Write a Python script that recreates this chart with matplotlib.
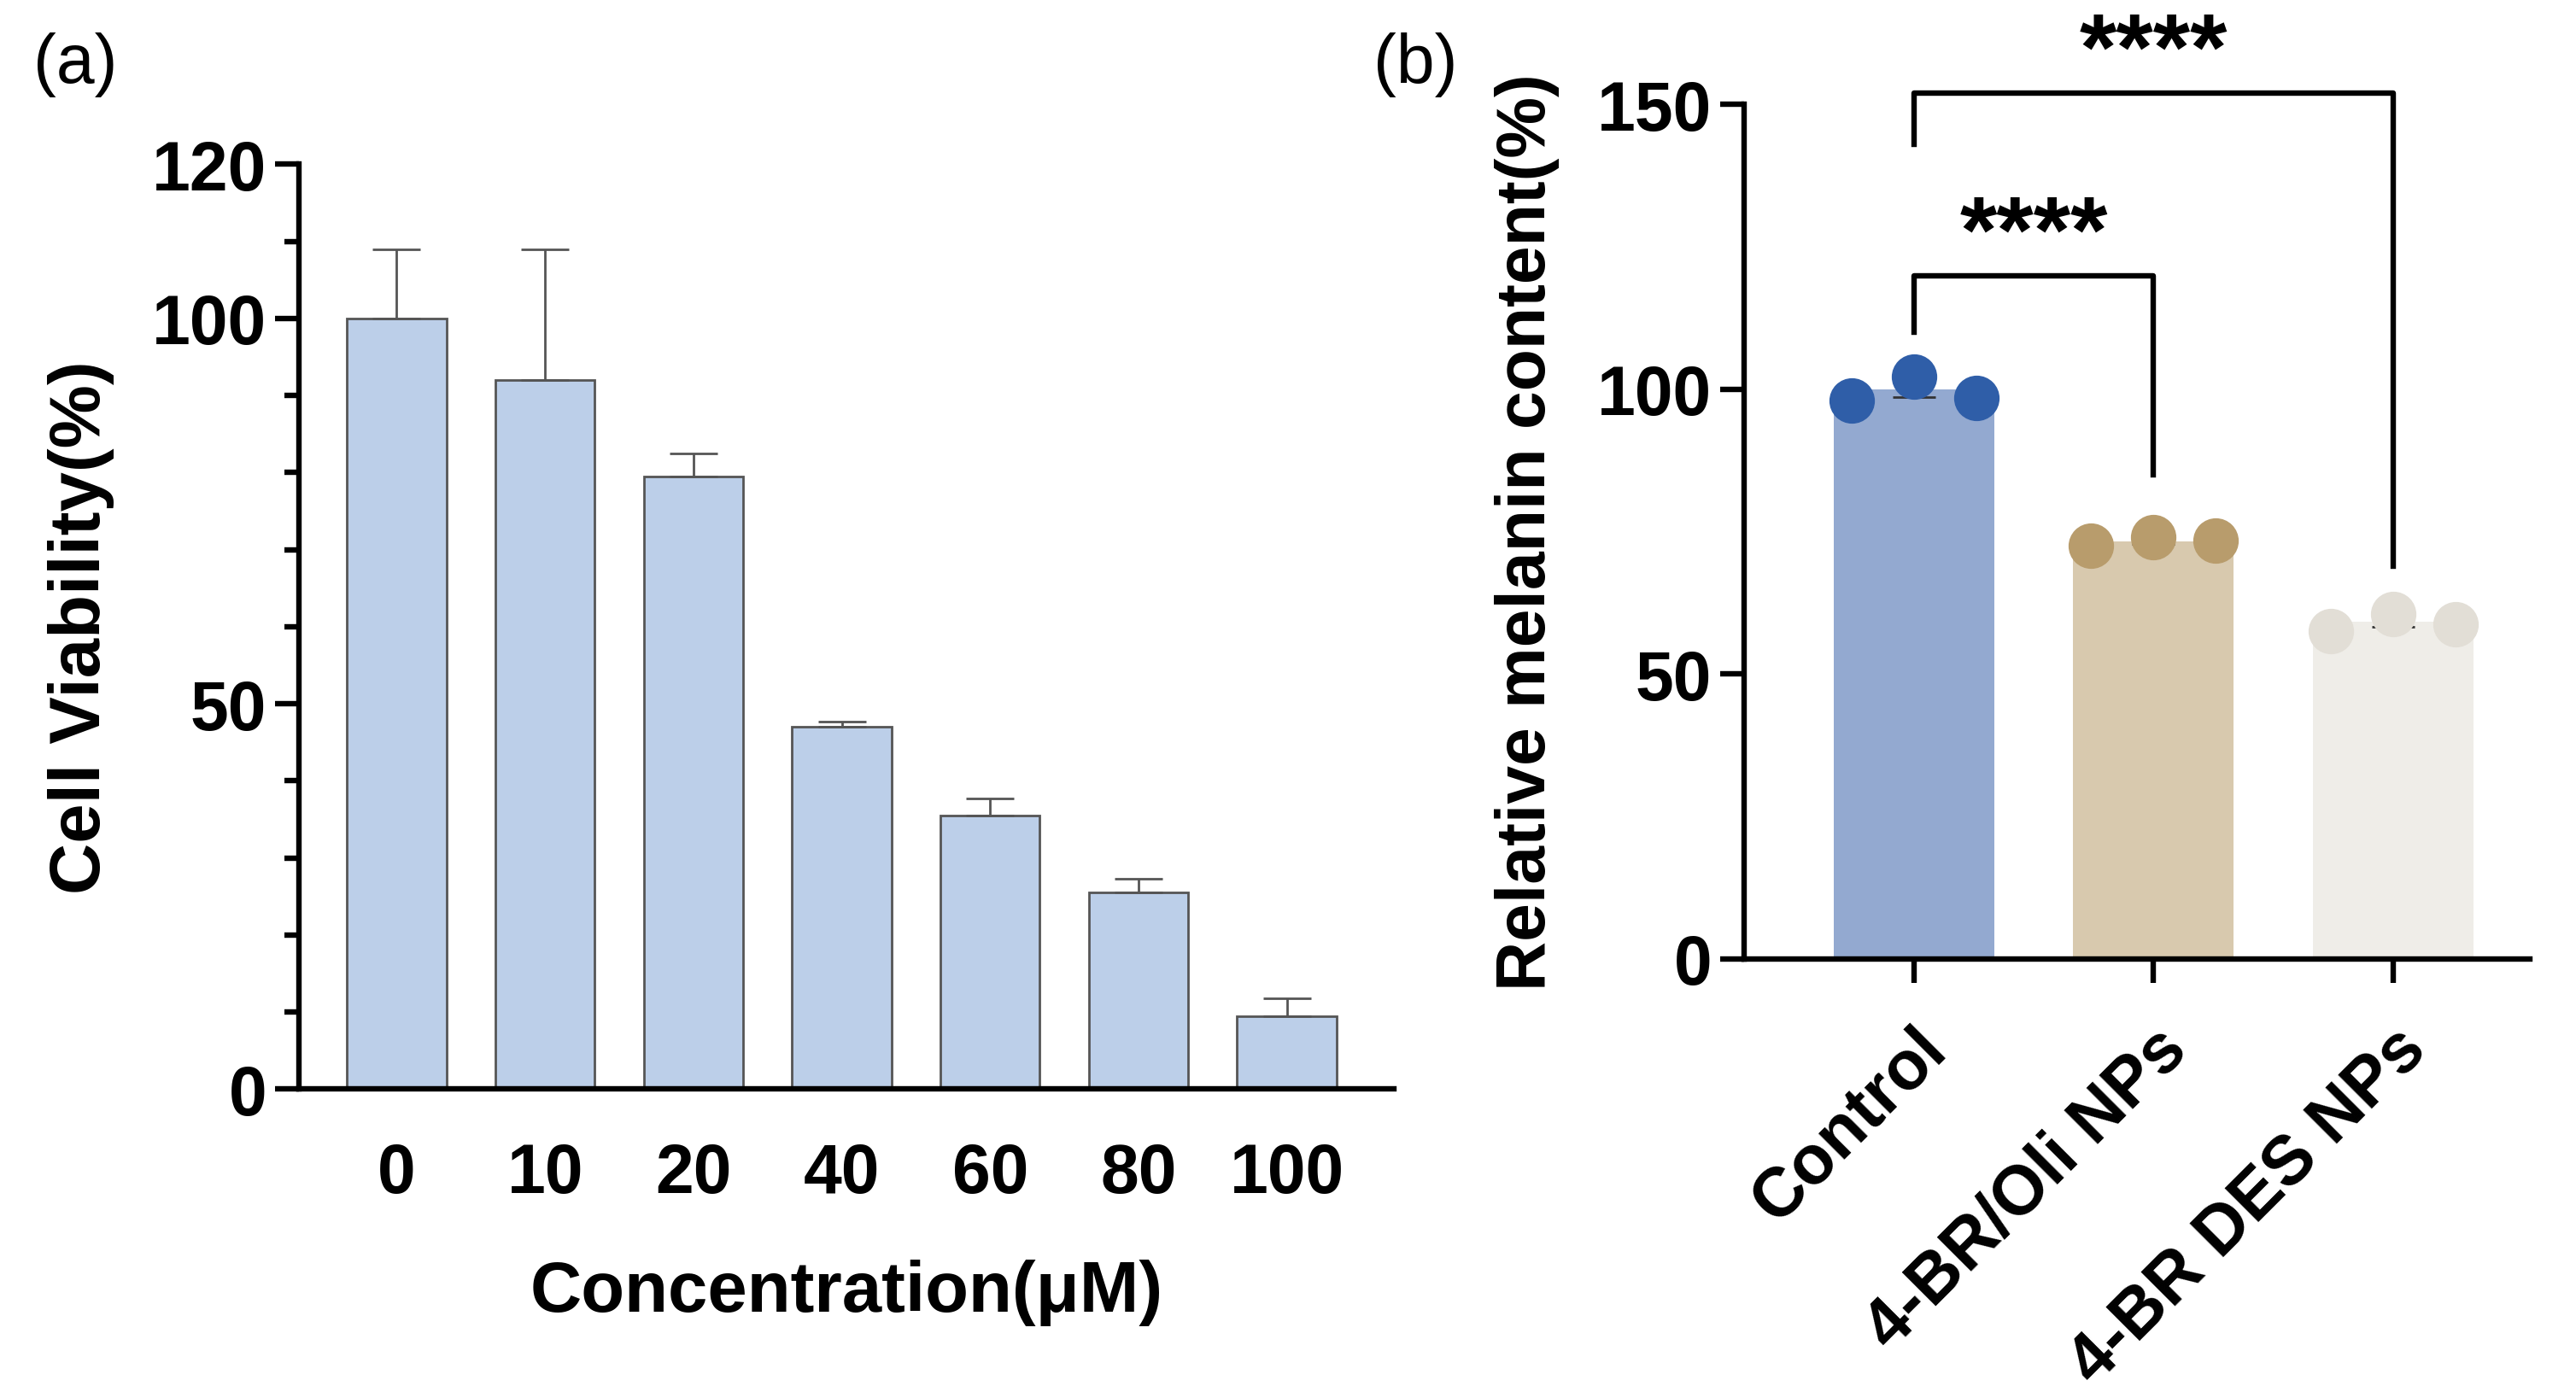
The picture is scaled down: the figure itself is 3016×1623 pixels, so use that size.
import matplotlib
matplotlib.use("Agg")
import matplotlib.pyplot as plt
import numpy as np

plt.rcParams['font.family'] = 'Liberation Sans'

conc = ['0', '10', '20', '40', '60', '80', '100']
viab = [100, 92, 79.5, 47, 35.5, 25.5, 9.5]
viab_err = [9, 17, 3, 0.7, 2.2, 1.8, 2.3]

groups = ['Control', '4-BR/Oli NPs', '4-BR DES NPs']
melanin = [100, 73.3, 59.2]
points = [[98, 102.3, 98.5], [72.5, 74, 73.5], [57.5, 60.5, 58.8]]
sem = [1.3, 0.5, 0.9]

fig = plt.figure(figsize=(15.08, 8.12), dpi=200)
lw = 2.3

ax = fig.add_axes([0.116, 0.214, 0.425, 0.667])
x = np.arange(len(conc))
ax.bar(x, viab, width=0.67, color='#bccfe9', edgecolor='#555555', linewidth=1)
ax.errorbar(x, viab, yerr=[np.zeros(len(x)), viab_err], fmt='none', ecolor='#555555', elinewidth=1, capsize=10, capthick=1)
ax.set_xlim(-0.66, 6.72)
ax.set_ylim(0, 120)
ax.set_yticks([0, 50, 100, 120])
ax.set_yticks(np.arange(0, 121, 10), minor=True)
ax.set_xticks(x)
ax.set_xticklabels(conc)
for s in ['top', 'right']:
    ax.spines[s].set_visible(False)
for s in ['left', 'bottom']:
    ax.spines[s].set_linewidth(lw)
ax.tick_params(axis='both', which='major', width=lw, length=10, labelsize=29)
ax.tick_params(axis='y', which='minor', width=lw, length=6)
ax.tick_params(axis='x', length=0, pad=22)
for t in ax.get_xticklabels() + ax.get_yticklabels():
    t.set_fontweight('bold')
ax.set_ylabel('Cell Viability(%)', fontsize=30, fontweight='bold', labelpad=16)
ax.set_xlabel('Concentration(μM)', fontsize=30, fontweight='bold', labelpad=22)
fig.text(0.013, 0.94, '(a)', fontsize=29)

bx = fig.add_axes([0.677, 0.308, 0.305, 0.616])
xb = np.arange(len(groups))
barc = ['#93a9d0', '#d8c9ae', '#efede8']
dotc = ['#2f5ea8', '#b89c6c', '#e2ded6']
bx.bar(xb, melanin, width=0.67, color=barc)
for i in range(3):
    bx.errorbar(xb[i], melanin[i], yerr=sem[i], fmt='none', ecolor='#333333', elinewidth=1.2, capsize=9)
    bx.scatter([xb[i] - 0.26, xb[i], xb[i] + 0.26], points[i], s=330, color=dotc[i], zorder=3, clip_on=False)
bx.set_xlim(-0.71, 2.57)
bx.set_ylim(0, 150)
bx.set_yticks([0, 50, 100, 150])
bx.set_xticks(xb)
bx.set_xticklabels(groups, rotation=45, ha='right', rotation_mode='anchor', fontsize=29, fontweight='bold')
for s in ['top', 'right']:
    bx.spines[s].set_visible(False)
for s in ['left', 'bottom']:
    bx.spines[s].set_linewidth(lw)
bx.tick_params(axis='both', width=lw, length=10, labelsize=29)
bx.tick_params(axis='x', pad=14)
for t in bx.get_yticklabels():
    t.set_fontweight('bold')
bx.set_ylabel('Relative melanin content(%)', fontsize=29, fontweight='bold', labelpad=16)
bx.plot([0, 0, 1, 1], [110, 120, 120, 85], color='black', lw=2.3, clip_on=False)
bx.text(0.5, 119, '****', ha='center', va='bottom', fontsize=40, fontweight='bold')
bx.plot([0, 0, 2, 2], [143, 152, 152, 69], color='black', lw=2.3, clip_on=False)
bx.text(1.0, 151, '****', ha='center', va='bottom', fontsize=40, fontweight='bold')
fig.text(0.533, 0.94, '(b)', fontsize=29)

fig.savefig('out.png', dpi=200)
